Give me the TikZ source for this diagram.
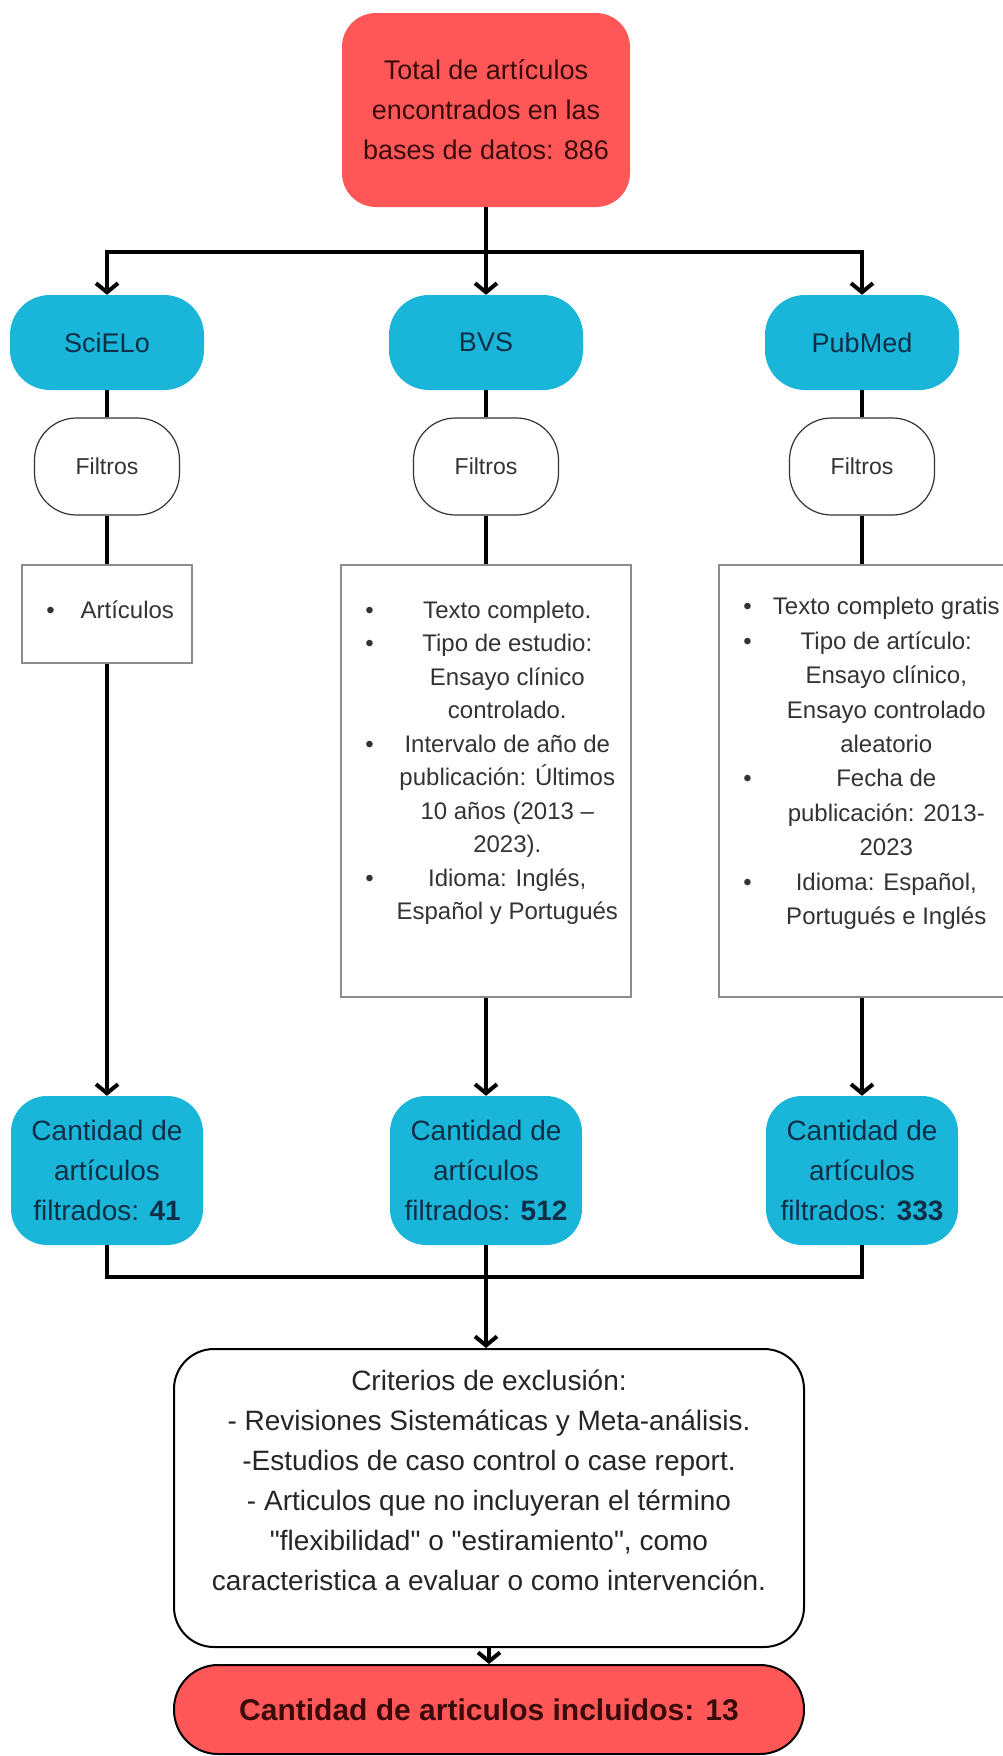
\documentclass[tikz,border=0pt]{standalone}
\usepackage{fontspec}
\setmainfont{Liberation Sans}
\usepackage{array}
\usetikzlibrary{arrows.meta, calc}

\definecolor{rojo}{HTML}{FF5757}
\definecolor{cian}{HTML}{1AB6D9}
\definecolor{tinta}{HTML}{0F2E47}
\definecolor{vino}{HTML}{3B0A0A}
\definecolor{gris}{HTML}{333333}

\begin{document}
\begin{tikzpicture}[x=1pt, y=-1pt,
	>={Straight Barb[length=9pt, width=22pt]},
	conector/.style={line width=4pt},
	flecha/.style={conector, ->},
	roja/.style={fill=rojo, text=vino, align=center, rounded corners=34pt},
	fuente/.style={fill=cian, text=tinta, align=center, rounded corners=40pt, minimum width=194pt, minimum height=95pt, font=\fontsize{27}{40}\selectfont},
	filtro/.style={draw=black!80, line width=1.2pt, fill=white, rounded corners=42pt, minimum width=145pt, minimum height=97pt, font=\fontsize{23}{28}\selectfont, text=black!80},
	lista/.style={draw=black!45, line width=1.8pt, fill=white},
	cuenta/.style={fill=cian, text=tinta, align=center, rounded corners=36pt, minimum width=192pt, minimum height=149pt, font=\fontsize{28}{40}\selectfont}]
	
	% Page
	\useasboundingbox (0,0) rectangle (1003,1756);
	\clip (0,0) rectangle (1003,1756);
	\fill[white] (0,0) rectangle (1003,1756);
	
	% Total
	\node[roja, minimum width=288pt, minimum height=194pt, font=\fontsize{27}{40}\selectfont] (total) at (486,110) {Total de artículos\\encontrados en las\\bases de datos: 886};
	
	% Bases de datos
	\node[fuente] (scielo) at (107,342.5) {SciELo};
	\node[fuente] (bvs) at (486,342.5) {BVS};
	\node[fuente] (pubmed) at (862,342.5) {PubMed};
	
	% Filtros
	\node[filtro] (f1) at (107,466.5) {Filtros};
	\node[filtro] (f2) at (486,466.5) {Filtros};
	\node[filtro] (f3) at (862,466.5) {Filtros};
	
	% Listas de filtros
	\node[lista, minimum width=170pt, minimum height=98pt] (l1) at (107,614) {};
	\node[lista, minimum width=290pt, minimum height=432pt] (l2) at (486,781) {};
	\node[lista, minimum width=290pt, minimum height=432pt] (l3) at (864,781) {};
	
	\node[anchor=north west, inner sep=0pt, font=\fontsize{24}{33.5}\selectfont, text=gris] (t1) at ($(l1.north west)+(25,30.5)$) {%
		\begin{tabular}{@{}p{20pt}@{}>{\centering\arraybackslash}p{122pt}@{}}
			\textbullet & Artículos\\
		\end{tabular}};
	\node[anchor=north west, inner sep=0pt, font=\fontsize{24}{33.5}\selectfont, text=gris] (t2) at ($(l2.north west)+(25,30.5)$) {%
		\begin{tabular}{@{}p{20pt}@{}>{\centering\arraybackslash}p{244pt}@{}}
			\textbullet & Texto completo.\\
			\textbullet & Tipo de estudio:\par Ensayo clínico\par controlado.\\
			\textbullet & Intervalo de año de\par publicación: Últimos\par 10 años (2013 –\par 2023).\\
			\textbullet & Idioma: Inglés,\par Español y Portugués\\
		\end{tabular}};
	\node[anchor=north west, inner sep=0pt, font=\fontsize{24}{34.4}\selectfont, text=gris] (t3) at ($(l3.north west)+(25,26.5)$) {%
		\begin{tabular}{@{}p{20pt}@{}>{\centering\arraybackslash}p{246pt}@{}}
			\textbullet & Texto completo gratis\\
			\textbullet & Tipo de artículo:\par Ensayo clínico,\par Ensayo controlado\par aleatorio\\
			\textbullet & Fecha de\par publicación: 2013-\par 2023\\
			\textbullet & Idioma: Español,\par Portugués e Inglés\\
		\end{tabular}};
	
	% Cantidades
	\node[cuenta] (c1) at (107,1170.5) {Cantidad de\\artículos\\filtrados: \textbf{41}};
	\node[cuenta] (c2) at (486,1170.5) {Cantidad de\\artículos\\filtrados: \textbf{512}};
	\node[cuenta] (c3) at (862,1170.5) {Cantidad de\\artículos\\filtrados: \textbf{333}};
	
	% Criterios de exclusion
	\node[draw, line width=2pt, fill=white, rounded corners=40pt, minimum width=630pt, minimum height=298pt] (excl) at (489,1498) {};
	\node[align=center, font=\fontsize{28}{40}\selectfont, text=black!85] (excltxt) at ($(excl.center)+(0,-18)$) {Criterios de exclusión:\\- Revisiones Sistemáticas y Meta-análisis.\\-Estudios de caso control o case report.\\- Articulos que no incluyeran el término\\\textquotedbl flexibilidad\textquotedbl{} o \textquotedbl estiramiento\textquotedbl, como\\caracteristica a evaluar o como intervención.};
	
	% Resultado
	\node[roja, draw=black, line width=2pt, rounded corners=44pt, minimum width=630pt, minimum height=89pt, font=\bfseries\fontsize{30}{36}\selectfont] (final) at (489,1709.5) {Cantidad de articulos incluidos: 13};
	
	% Conectores superiores
	\coordinate (rama) at ($(total.south)+(0,45)$);
	\draw[flecha] (total.south) -- (bvs.north);
	\draw[flecha] (rama) -| (scielo.north);
	\draw[flecha] (rama) -| (pubmed.north);
	
	\draw[conector] (scielo.south) -- (f1.north);
	\draw[conector] (bvs.south) -- (f2.north);
	\draw[conector] (pubmed.south) -- (f3.north);
	
	\draw[conector] (f1.south) -- (l1.north);
	\draw[conector] (f2.south) -- (l2.north);
	\draw[conector] (f3.south) -- (f3.south |- l3.north);
	
	\draw[flecha] (l1.south) -- (c1.north);
	\draw[flecha] (l2.south) -- (c2.north);
	\draw[flecha] (c3.north |- l3.south) -- (c3.north);
	
	% Union inferior
	\coordinate (union) at ($(c2.south)+(0,32)$);
	\draw[conector] (c1.south) |- (union) -| (c3.south);
	\draw[flecha] (c2.south) -- (c2.south |- excl.north);
	\draw[flecha] (excl.south) -- (final.north);
	
\end{tikzpicture}
\end{document}
